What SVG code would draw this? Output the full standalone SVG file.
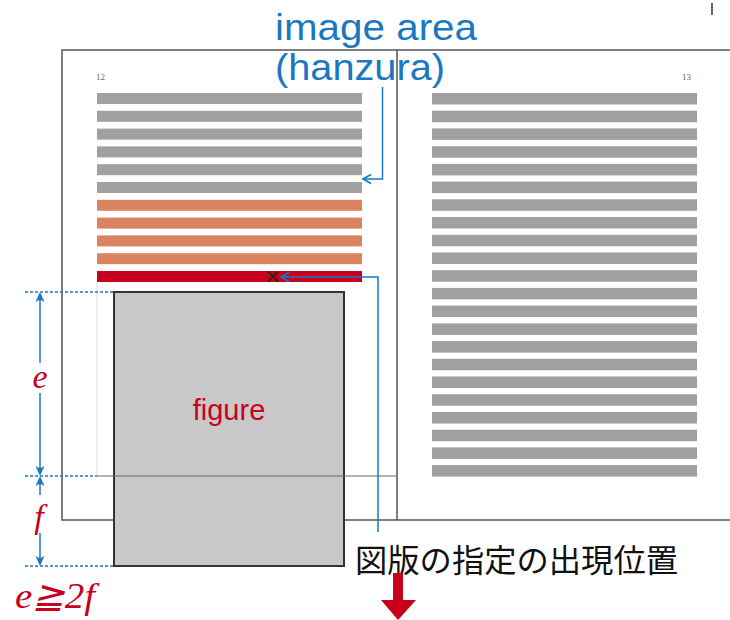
<svg xmlns="http://www.w3.org/2000/svg" width="730" height="620" viewBox="0 0 730 620">
<defs>
<style>
.frame{fill:none;stroke:#555;stroke-width:1.5}
.gbar{fill:#a0a0a0}
.obar{fill:#d9835f}
.rbar{fill:#c8001e}
.blue{fill:none;stroke:#1a78c2;stroke-width:1.5}
.head{fill:none;stroke:#1a78c2;stroke-width:1.6}
.dhead{fill:#1a78c2}
.dash{fill:none;stroke:#1a78c2;stroke-width:1.5;stroke-dasharray:3 2}
.lbl{font-family:"Liberation Serif",serif;font-style:italic;fill:#c8001e}
.bluetxt{font-family:"Liberation Sans",Arial,sans-serif;fill:#1a78c2;font-size:37px}
.pg{font-family:"Liberation Serif",serif;font-size:9px;fill:#666}
</style>
</defs>
<rect width="730" height="620" fill="#fff"/>
<line x1="712" y1="3" x2="712" y2="15" stroke="#000" stroke-width="1.2"/>

<g id="spread">
<polyline class="frame" points="730,50 62,50 62,520 730,520"/>
<line class="frame" x1="397" y1="50" x2="397" y2="520"/>
<text class="pg" x="96" y="80">12</text>
<text class="pg" x="682" y="80">13</text>
</g>

<g id="left-text">
<rect class="gbar" x="97" y="93" width="265" height="11"/>
<rect class="gbar" x="97" y="110.8" width="265" height="11"/>
<rect class="gbar" x="97" y="128.6" width="265" height="11"/>
<rect class="gbar" x="97" y="146.4" width="265" height="11"/>
<rect class="gbar" x="97" y="164.2" width="265" height="11"/>
<rect class="gbar" x="97" y="182" width="265" height="11"/>
<rect class="obar" x="97" y="199.8" width="265" height="11"/>
<rect class="obar" x="97" y="217.6" width="265" height="11"/>
<rect class="obar" x="97" y="235.4" width="265" height="11"/>
<rect class="obar" x="97" y="253.2" width="265" height="11"/>
<rect class="rbar" x="97" y="271" width="265" height="11"/>
<line x1="97" y1="285" x2="97" y2="476" stroke="#ddd" stroke-width="1"/>
</g>

<g id="right-text">
<rect class="gbar" x="432" y="93" width="265" height="11.5"/>
<rect class="gbar" x="432" y="110.7" width="265" height="11.5"/>
<rect class="gbar" x="432" y="128.4" width="265" height="11.5"/>
<rect class="gbar" x="432" y="146.2" width="265" height="11.5"/>
<rect class="gbar" x="432" y="163.9" width="265" height="11.5"/>
<rect class="gbar" x="432" y="181.6" width="265" height="11.5"/>
<rect class="gbar" x="432" y="199.3" width="265" height="11.5"/>
<rect class="gbar" x="432" y="217" width="265" height="11.5"/>
<rect class="gbar" x="432" y="234.8" width="265" height="11.5"/>
<rect class="gbar" x="432" y="252.5" width="265" height="11.5"/>
<rect class="gbar" x="432" y="270.2" width="265" height="11.5"/>
<rect class="gbar" x="432" y="287.9" width="265" height="11.5"/>
<rect class="gbar" x="432" y="305.6" width="265" height="11.5"/>
<rect class="gbar" x="432" y="323.4" width="265" height="11.5"/>
<rect class="gbar" x="432" y="341.1" width="265" height="11.5"/>
<rect class="gbar" x="432" y="358.8" width="265" height="11.5"/>
<rect class="gbar" x="432" y="376.5" width="265" height="11.5"/>
<rect class="gbar" x="432" y="394.2" width="265" height="11.5"/>
<rect class="gbar" x="432" y="412" width="265" height="11.5"/>
<rect class="gbar" x="432" y="429.7" width="265" height="11.5"/>
<rect class="gbar" x="432" y="447.4" width="265" height="11.5"/>
<rect class="gbar" x="432" y="465.1" width="265" height="11.5"/>
</g>

<g id="figure">
<rect x="114" y="292" width="230" height="274" fill="#c8c8c8" stroke="#333" stroke-width="2"/>
<text x="229" y="420" text-anchor="middle" font-family="Liberation Sans,Arial,sans-serif" font-size="29" fill="#c8001e">figure</text>
</g>
<line x1="97" y1="476" x2="397" y2="476" stroke="#666" stroke-width="1"/>

<g id="x-mark">
<path d="M268,271.5 L278,281.5 M278,271.5 L268,281.5" stroke="#3a1a1a" stroke-width="2"/>
</g>

<g id="image-area-label">
<text class="bluetxt" x="275" y="40" textLength="202" lengthAdjust="spacingAndGlyphs">image area</text>
<text class="bluetxt" x="275" y="80" textLength="170" lengthAdjust="spacingAndGlyphs">(hanzura)</text>
</g>

<g id="position-label">
<text x="355" y="572" font-family="Noto Sans CJK JP,serif" font-size="32" fill="#111" textLength="323" lengthAdjust="spacingAndGlyphs">図版の指定の出現位置</text>
<polygon points="393,573 403,573 403,600 416,600 398,620 381,600 393,600" fill="#c8001e"/>
</g>

<g id="dims">
<line class="dash" x1="25" y1="292" x2="113" y2="292"/>
<line class="dash" x1="25" y1="476" x2="97" y2="476"/>
<line class="dash" x1="25" y1="566" x2="113" y2="566"/>
<line class="blue" x1="40" y1="296" x2="40" y2="363"/>
<line class="blue" x1="40" y1="393" x2="40" y2="472"/>
<line class="blue" x1="40" y1="480" x2="40" y2="495"/>
<line class="blue" x1="40" y1="533" x2="40" y2="562"/>
<polygon class="dhead" points="40,292 35.5,302 40,299.5 44.5,302"/>
<polygon class="dhead" points="40,476 35.5,466 40,468.5 44.5,466"/>
<polygon class="dhead" points="40,476 35.5,486 40,483.5 44.5,486"/>
<polygon class="dhead" points="40,566 35.5,556 40,558.5 44.5,556"/>
<text class="lbl" x="40" y="388" font-size="34" text-anchor="middle">e</text>
<text class="lbl" x="39" y="528" font-size="34" text-anchor="middle">f</text>
<text class="lbl" x="15" y="608" font-size="36" textLength="80" lengthAdjust="spacingAndGlyphs">e≧2f</text>
</g>

<g id="connectors">
<polyline class="blue" points="382.5,87 382.5,179 364,179"/>
<path class="head" d="M371,174.5 L363,179 L371,183.5"/>
<polyline class="blue" points="378,532 378,277 282,277"/>
<path class="head" d="M289,272.5 L281,277 L289,281.5"/>
</g>
</svg>
